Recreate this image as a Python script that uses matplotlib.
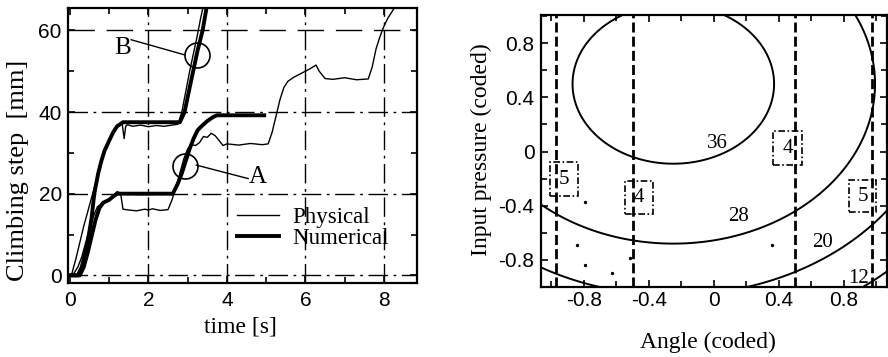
import numpy as np
import matplotlib
matplotlib.use("Agg")
import matplotlib.pyplot as plt
from matplotlib.patches import Rectangle
from matplotlib.ticker import MultipleLocator

SERIF = ["Liberation Serif", "DejaVu Serif"]
SANS = ["Liberation Sans", "DejaVu Sans"]
plt.rcParams["font.family"] = SANS

# ---------------- climbing-step time histories ----------------
phys_B_t = [0, 0.05, 0.15, 0.25, 0.35, 0.45, 0.55, 0.65, 0.75, 0.85, 0.95, 1.05,
            1.15, 1.25, 1.33, 1.38, 1.42, 1.46, 1.6, 1.8, 2.0, 2.2, 2.4, 2.6,
            2.75, 2.85, 2.95, 3.05, 3.15, 3.25, 3.33, 3.4]
phys_B_y = [0, 0.5, 4, 8, 12, 15.5, 19, 22.5, 26, 29.5, 32, 34,
            35.5, 36.8, 37.2, 33.5, 36.5, 36.9, 36.5, 36.8, 36.4, 36.7, 36.5, 36.8,
            37, 40, 45, 50, 54.5, 59, 63, 66]

num_B_t = [0, 0.2, 0.3, 0.45, 0.55, 0.62, 0.72, 0.8, 0.88, 1.0, 1.1, 1.2, 1.35,
           2.8, 2.92, 3.05, 3.15, 3.25, 3.38, 3.48]
num_B_y = [0, 0, 2, 8, 14, 20, 25, 28, 30.5, 33, 35, 36.5, 37.5,
           37.5, 40, 46, 50.5, 55, 60, 65.5]

num_A_t = [0, 0.25, 0.35, 0.45, 0.55, 0.65, 0.75, 0.85, 1.0, 1.1, 1.2, 2.62,
           2.75, 2.85, 2.95, 3.05, 3.15, 3.25, 3.35, 3.5, 3.65, 3.75, 4.95]
num_A_y = [0, 0, 2, 5.5, 9.5, 13.5, 16.5, 17.8, 18.5, 19.3, 20, 20,
           22.5, 25, 28, 31, 33.5, 35.5, 36.5, 37.8, 38.8, 39.2, 39.2]

phys_A_t = [0, 0.1, 0.2, 0.3, 0.4, 0.5, 0.6, 0.7, 0.8, 0.9, 1.0, 1.1, 1.2, 1.25,
            1.3, 1.35, 1.5, 1.7, 1.9, 2.0, 2.1, 2.3, 2.5, 2.6, 2.7, 2.8, 2.9, 3.0,
            3.1, 3.2, 3.3, 3.4, 3.5, 3.6, 3.7, 3.8, 3.9, 4.0, 4.3, 4.6, 4.9, 5.05,
            5.15, 5.25, 5.35, 5.45, 5.55, 5.7, 5.9, 6.1, 6.27, 6.35, 6.5, 6.7, 7.0,
            7.3, 7.6, 7.7, 7.8, 7.9, 8.0, 8.1, 8.2, 8.3]
phys_A_y = [0, 0.5, 2, 4.5, 8, 11.5, 14.5, 16.8, 17.5, 18.0, 18.5, 19.5, 20.5, 20.3,
            19.5, 16.2, 16.0, 15.8, 16.2, 16.0, 16.3, 15.9, 16.1, 18.5, 21.5, 25, 28.5, 31,
            32, 31.8, 32.5, 34, 33.8, 34.8, 34.2, 33, 31.8, 32.2, 31.9, 32.3, 32, 32.2,
            35, 39, 43, 46, 47.5, 48.5, 49.5, 50.5, 51.5, 50, 48.2, 48, 48.4,
            47.9, 48.1, 51, 55.5, 58.5, 61, 63, 64.5, 66]

# labelled points on the curves
mark_B = (3.245, 54.0)
mark_A = (2.92, 26.8)
label_B = (1.34, 55.6)
label_A = (4.78, 24.1)

# ---------------- response surface (coded factors) ----------------
rs_peak = 38.66
rs_kx = 6.92
rs_ky = 7.64
rs_x0 = -0.25
rs_y0 = 0.5
rs_levels = [12, 20, 28, 36]
rs_label_pos = [(0.89, -0.94), (0.67, -0.675), (0.15, -0.48), (0.02, 0.06)]

angle_lines = [-0.97, -0.5, 0.5, 0.97]
box_labels = ["5", "4", "4", "5"]
box_x = [-1.006, -0.548, 0.365, 0.83]
box_y = [-0.33, -0.46, -0.10, -0.45]
box_w = [0.17, 0.175, 0.175, 0.17]
box_h = [0.25, 0.245, 0.25, 0.24]
specks_x = [-0.795, -0.845, -0.795, -0.63, -0.517, 0.36]
specks_y = [-0.37, -0.69, -0.84, -0.9, -0.79, -0.69]

fig = plt.figure(figsize=(8.88, 3.57), dpi=100)
W, H = 888.0, 357.0
ax1 = fig.add_axes([68 / W, 1 - 282.7 / H, (417.3 - 68) / W, (282.7 - 8.3) / H])
ax2 = fig.add_axes([540.7 / W, 1 - 286.7 / H, (886.7 - 540.7) / W, (286.7 - 15) / H])

for ax in (ax1, ax2):
    for sp in ax.spines.values():
        sp.set_linewidth(1.6)
    ax.tick_params(which="both", direction="in", top=True, right=True,
                   width=1.2, labelsize=15)
    ax.tick_params(which="major", length=5)
    ax.tick_params(which="minor", length=4)

# ---------------- left panel ----------------
ax1.set_xlim(-0.05, 8.85)
ax1.set_ylim(-1.8, 65.4)
ax1.xaxis.set_major_locator(MultipleLocator(2))
ax1.xaxis.set_minor_locator(MultipleLocator(1))
ax1.yaxis.set_major_locator(MultipleLocator(20))
ax1.yaxis.set_minor_locator(MultipleLocator(10))
ax1.tick_params(axis="x", which="major", pad=6)
ax1.tick_params(axis="y", which="major", pad=4.5)

dashdot = (0, (14, 4, 2, 4))
for yv in (0, 20, 40):
    ax1.axhline(yv, color="black", lw=1.0, linestyle=dashdot, zorder=1)
ax1.axhline(60, color="black", lw=1.0, linestyle=(0, (19, 8.5)), zorder=1)
for xv in (2, 4, 6, 8):
    ax1.axvline(xv, color="black", lw=1.0, linestyle=dashdot, zorder=1)

ax1.plot(phys_B_t, phys_B_y, color="black", lw=1.0, zorder=3)
ax1.plot(phys_A_t, phys_A_y, color="black", lw=1.0, zorder=3, label="Physical")
ax1.plot(num_B_t, num_B_y, color="black", lw=2.8, zorder=2)
ax1.plot(num_A_t, num_A_y, color="black", lw=2.8, zorder=2, label="Numerical")

for (cx, cy) in (mark_B, mark_A):
    ax1.plot([cx], [cy], marker="o", ms=18, mfc="none", mec="black", mew=1.2, zorder=4)
ax1.plot([1.56, 2.92], [57.7, 54.0], color="black", lw=1.0, zorder=4)
ax1.plot([3.22, 4.54], [27.0, 23.7], color="black", lw=1.0, zorder=4)
ax1.text(*label_B, "B", family=SERIF, fontsize=18, ha="center", va="center")
ax1.text(*label_A, "A", family=SERIF, fontsize=18, ha="center", va="center")

ax1.legend(loc="upper left", bbox_to_anchor=(0.485, 0.275), frameon=False,
           prop={"family": SERIF, "size": 16.5}, handlelength=1.8,
           handletextpad=0.6, labelspacing=0.0, borderaxespad=0, borderpad=0)

ax1.set_xlabel("time [s]", family=SERIF, fontsize=17)
ax1.set_ylabel("Climbing step  [mm]", family=SERIF, fontsize=19)
ax1.xaxis.set_label_coords(0.495, -0.125)
ax1.yaxis.set_label_coords(-0.112, 0.41)

# ---------------- right panel ----------------
ax2.set_xlim(-1.066, 1.063)
ax2.set_ylim(-1.0, 1.01)
ax2.set_xticks([-0.8, -0.4, 0, 0.4, 0.8])
ax2.set_xticklabels(["-0.8", "-0.4", "0", "0.4", "0.8"])
ax2.set_yticks([-0.8, -0.4, 0, 0.4, 0.8])
ax2.set_yticklabels(["-0.8", "-0.4", "0", "0.4", "0.8"])
ax2.xaxis.set_minor_locator(MultipleLocator(0.2))
ax2.yaxis.set_minor_locator(MultipleLocator(0.2))
ax2.tick_params(axis="x", which="major", pad=3)
ax2.tick_params(axis="y", which="major", pad=4.5)

gx = np.linspace(-1.2, 1.2, 400)
gy = np.linspace(-1.2, 1.2, 400)
GX, GY = np.meshgrid(gx, gy)
GZ = rs_peak - rs_kx * (GX - rs_x0) ** 2 - rs_ky * (GY - rs_y0) ** 2
ax2.contour(GX, GY, GZ, levels=rs_levels, colors="black", linewidths=1.4)
for lev, (tx, ty) in zip(rs_levels, rs_label_pos):
    ax2.text(tx, ty, str(lev), family=SERIF, fontsize=15, ha="center", va="center",
             zorder=5)

for xv in angle_lines:
    ax2.axvline(xv, color="black", lw=2.0, linestyle=(0, (3.6, 1.5)), zorder=3)

for lab, bx, by, bw, bh in zip(box_labels, box_x, box_y, box_w, box_h):
    ax2.add_patch(Rectangle((bx, by), bw, bh, fill=False, ec="black", lw=1.2,
                            linestyle=(0, (4, 1.5, 1, 1.5)), zorder=4))
    ax2.text(bx + bw / 2, by + bh / 2, lab, family=SERIF, fontsize=15,
             ha="center", va="center", zorder=5)

ax2.scatter(specks_x, specks_y, s=2, color="black", zorder=4)

ax2.set_xlabel("Angle (coded)", family=SERIF, fontsize=17)
ax2.set_ylabel("Input pressure (coded)", family=SERIF, fontsize=17)
ax2.xaxis.set_label_coords(0.4835, -0.165)
ax2.yaxis.set_label_coords(-0.141, 0.503)

fig.savefig("out.png", dpi=100)
